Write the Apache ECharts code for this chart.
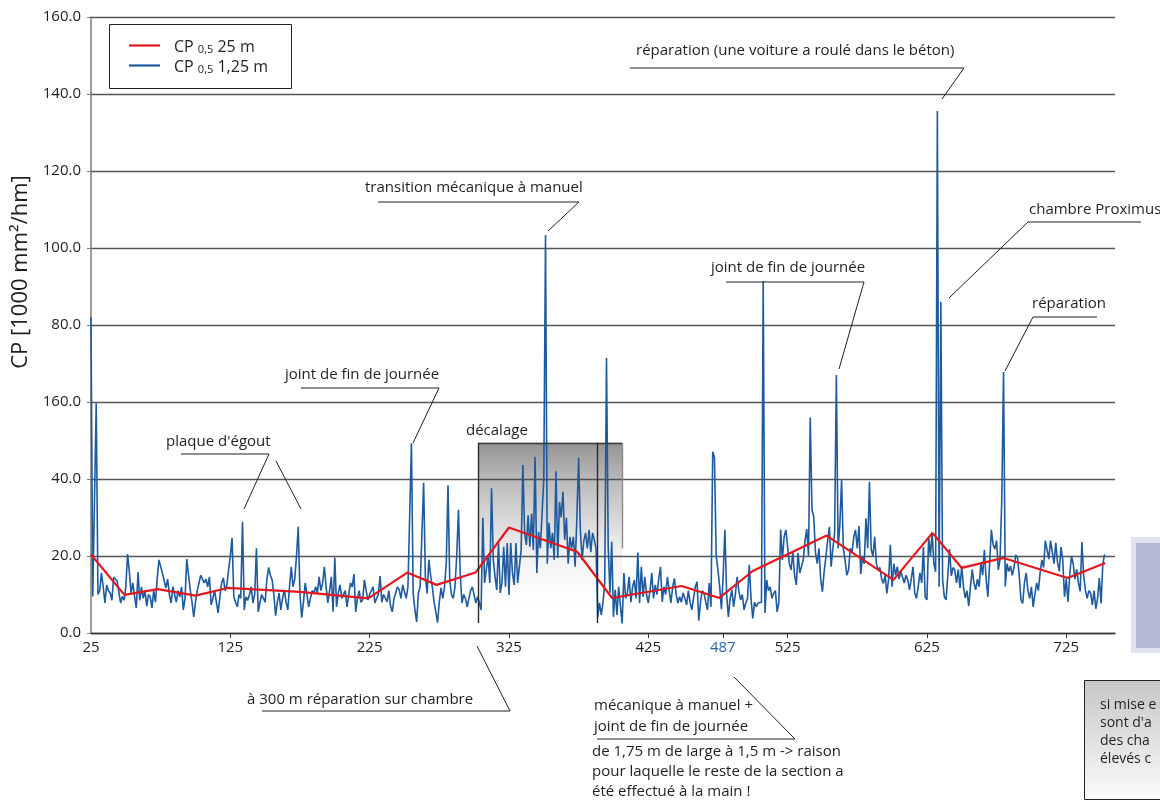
<!DOCTYPE html>
<html><head><meta charset="utf-8">
<script src="https://cdn.jsdelivr.net/npm/echarts@6/dist/echarts.min.js"></script>
<style>html,body{margin:0;padding:0;background:#fff}#c{width:1160px;height:803px}</style>
</head><body><div id="c"></div>
<script>
const FONT = '"Open Sans", "Noto Sans", sans-serif';
const TXT = '#231f20';

// CP 0,5 1,25 m : one value every 1.25 m, starting at 25 m
const blueStart = 25, blueStep = 1.25;
const blueValues = [
 82, 9.5, 10, 59.7, 10, 11, 15.6, 12, 7.8, 12.5, 11, 10.4, 8.5, 14.5, 14, 13.5, 13.8, 7.8, 9.5, 8.5,
 12, 20.5, 16, 10.4, 13, 9.5, 6.5, 15.8, 8.5, 12, 9, 11, 7, 10, 9.4, 6.5, 11, 8, 14, 19,
 19.2, 15.6, 16, 11.7, 14, 10, 7.8, 12, 10, 8, 11, 9.4, 12, 6, 9, 19.2, 15, 11.2, 8, 4.2,
 8, 11, 13, 15, 14.6, 13, 14, 12, 14.6, 7.3, 9, 11, 8, 5.2, 9.4, 13, 14.3, 11, 12.5, 16.4,
 20, 24.7, 9.4, 8, 6.8, 10, 9, 28.9, 6, 9.4, 8.5, 10, 12, 7.8, 10, 22, 5.5, 7.8, 10, 9,
 8, 14, 17, 15, 13.8, 10, 4.5, 8, 10.4, 6, 9, 11.2, 8, 6, 12, 17.2, 12, 14, 20, 27.6,
 10, 4, 8, 13, 10, 6.8, 9, 11, 10.4, 12, 10.4, 14.6, 11, 13, 17.2, 12, 7.8, 11, 14.6, 5.5,
 19.6, 6.8, 10.4, 12.5, 9, 8.6, 11, 6.8, 10, 13, 12, 15.3, 5.5, 9, 11, 8, 8.6, 13.8, 11, 8.6,
 10, 11, 12, 7.8, 9, 10, 14.8, 8, 10, 9.5, 8.1, 11, 7, 5.5, 9, 10.4, 12, 11.2, 9, 12.5,
 12.5, 9, 12, 12, 49.3, 10.3, 6, 2.9, 10.4, 12, 12, 39, 14.6, 10.3, 19, 15, 12, 8, 5.5, 2.7,
 8, 11.7, 9, 12, 18, 38.4, 13.8, 10, 9, 12, 20, 32, 15.6, 7.8, 10, 9, 6.8, 9, 11, 12,
 12, 7.8, 9.4, 7.8, 6, 29.9, 13, 12.5, 20, 13, 37.6, 19, 14.6, 11.2, 23.4, 10.4, 13, 22.4, 12, 23.4,
 9.9, 23.4, 15.6, 12.5, 23.4, 13, 12.5, 21.6, 43.6, 26, 22.9, 30.6, 22.4, 31, 21.6, 45.8, 15.6, 26.3, 22, 31,
 40, 103.4, 18, 28.6, 22, 26, 19, 42, 19.5, 34, 30, 36.7, 24.2, 29.9, 18, 25, 22, 25, 17.2, 30,
 45.5, 26.8, 19, 24, 26, 22, 26.8, 21, 26, 24.2, 22, 4.2, 7.8, 4.7, 7.8, 13, 71.4, 22.4, 10.4, 23.7,
 4.2, 11.2, 4.7, 12, 7, 2.5, 15.6, 9, 10.4, 14.6, 8, 12, 13.8, 9, 20.9, 7.8, 17.2, 9.4, 14.6, 10,
 7.8, 11, 15.6, 9, 12.5, 10, 14, 17.2, 8.1, 12, 10, 14.6, 11, 7.8, 12, 14.2, 10, 7.8, 9.4, 8,
 10.4, 9, 7.3, 11, 8, 6, 9, 12, 13.3, 3.2, 8, 11, 10.4, 8, 6, 13, 6.8, 47.1, 45.5, 20,
 16.4, 12, 6.2, 15, 26.8, 10, 4.2, 9, 11.2, 6.8, 10, 14.6, 11, 8.6, 10, 6, 7.8, 9, 17.7, 9,
 3.8, 8, 6.8, 7.8, 8, 8, 91.4, 5.2, 13.8, 11, 12, 9, 10.3, 11, 5.5, 8, 26.9, 19, 25, 26.8,
 22.4, 18, 16.4, 21, 15, 12.5, 20.8, 15.6, 16, 19, 24, 27, 20, 56, 32, 30.2, 21, 18, 22, 14,
 10.7, 16, 19.8, 24, 27.6, 17.2, 22, 26, 67, 22, 28, 39.7, 22, 19, 15, 16.4, 22, 20.8, 25, 26.8,
 22, 27.8, 15.3, 20, 18, 29.8, 22, 39.3, 21.6, 20, 25, 18, 16.4, 17, 14, 12.9, 15, 10.3, 14, 22.9,
 12, 18, 15, 17.2, 14, 16, 16.4, 13, 15, 13.8, 11.2, 14, 17.2, 10.4, 9, 12, 15.6, 13, 22.3, 9.4,
 8.6, 25, 20, 26, 18, 15.9, 135.6, 12, 86, 13.8, 9.4, 8.6, 15, 21.8, 14.8, 17, 16.4, 13, 16.5, 11.7,
 17.4, 12, 9.1, 11, 7, 12, 16.5, 13, 11.2, 14, 12, 18.3, 15, 21.6, 14, 9.4, 18, 26.8, 23, 21.8,
 24, 16.4, 19.2, 35, 67.8, 12.1, 18, 16, 17.4, 15, 17, 20.3, 19.6, 15, 8.6, 7.7, 13, 15.6, 11, 9,
 12, 6.8, 10, 13, 11, 15.6, 19, 17, 24, 23.6, 19.2, 24, 21, 18, 23.4, 18.3, 16, 22.3, 19, 9.4,
 14, 8.1, 15, 20, 18, 14, 16.5, 13, 10.8, 23.6, 15, 11.2, 9, 11, 10.4, 7.3, 11, 6.3, 9, 14.3,
 7.7, 17.8, 20.4
];

// CP 0,5 25 m
const redX = [25, 49, 73, 100, 123, 175, 224, 252, 273, 301, 325, 374, 399, 449, 476, 500, 553, 601, 629, 650, 680, 726, 753];
const redY = [20.4, 9.9, 11.4, 9.7, 11.7, 10.7, 9.0, 15.7, 12.5, 15.7, 27.4, 21.1, 9.1, 12.2, 9.1, 16.1, 25.3, 13.8, 26.0, 16.9, 19.5, 14.3, 18.2];

const redName = 'CP 0,5 25 m';
const blueName = 'CP 0,5 1,25 m';

const yTickLabels = ['0.0', '20.0', '40.0', '160.0', '80.0', '100.0', '120.0', '140.0', '160.0'];
const xTickValues = [25, 125, 225, 325, 425, 478.5, 525, 625, 725];
const xTickLabels = ['25', '125', '225', '325', '425', '487', '525', '625', '725'];

// "décalage" box (data coords)
const decal = {x0: 302.8, x1: 406.2, xm: 388.2, yTop: 49.4, yBot: 2.6};

// annotations (page layout)
const annotationTexts = [
  ["plaque d'égout", 166, 442],
  ['joint de fin de journée', 285, 375],
  ['transition mécanique à manuel', 365, 188],
  ['décalage', 466, 431],
  ['réparation (une voiture a roulé dans le béton)', 636, 51],
  ['joint de fin de journée', 711, 268],
  ['chambre Proximus', 1029, 210],
  ['réparation', 1032, 304],
  ['à 300 m réparation sur chambre', 247, 700],
  ['mécanique à manuel +', 594, 706],
  ['joint de fin de journée', 594, 727],
  ['de 1,75 m de large à 1,5 m -> raison', 592, 752],
  ['pour laquelle le reste de la section a', 592, 772],
  ['été effectué à la main !', 592, 792]
];
const leaderLines = [
  [[181,454],[269,454],[244,509]],
  [[276,461],[301,509]],
  [[301,388],[439,388],[413,443]],
  [[378,202],[579,202],[548,231]],
  [[630,68],[964,68],[942,99]],
  [[726,282],[864,282],[839,369]],
  [[1141,222],[1028,222],[949,298]],
  [[1097,317],[1033,317],[1005,371]],
  [[262,711],[510,711],[477,646]],
  [[597,739],[795,739],[734,677]]
];
const sideNoteLines = ['si mise e', "sont d'a", 'des cha', 'élevés c'];

const blueData = blueValues.map((v, i) => [blueStart + i * blueStep, v]);
const redData = redX.map((x, i) => [x, redY[i]]);

const chart = echarts.init(document.getElementById('c'), null, {renderer: 'canvas'});

const graphics = [];
graphics.push({type: 'rect', z: 3, shape: {x: 109.5, y: 24.5, width: 182, height: 64},
  style: {fill: '#fff', stroke: TXT, lineWidth: 1}});
graphics.push({type: 'text', z: 10, x: 21, y: 272, rotation: Math.PI / 2,
  style: {text: 'CP [1000 mm²/hm]', fill: TXT, fontSize: 22, fontFamily: FONT, align: 'center', verticalAlign: 'middle'}});
annotationTexts.forEach(a => graphics.push({type: 'text', z: 10, x: a[1], y: a[2],
  style: {text: a[0], fill: TXT, fontSize: 15, fontFamily: FONT, align: 'left', verticalAlign: 'middle'}}));
leaderLines.forEach(p => graphics.push({type: 'polyline', z: 10, shape: {points: p},
  style: {stroke: TXT, lineWidth: 1, fill: null}}));
// right-side partial elements
graphics.push({type: 'rect', z: 5, shape: {x: 1131, y: 537, width: 40, height: 116}, style: {fill: '#dfe3ef'}});
graphics.push({type: 'rect', z: 6, shape: {x: 1136, y: 543, width: 40, height: 105}, style: {fill: '#b4bad6'}});
graphics.push({type: 'rect', z: 5, shape: {x: 1084.5, y: 680.5, width: 100, height: 119},
  style: {fill: new echarts.graphic.LinearGradient(0, 0, 0, 1, [{offset: 0, color: '#c6c6c6'}, {offset: 1, color: '#fbfbfb'}]), stroke: '#222', lineWidth: 1}});
sideNoteLines.forEach((t, i) => graphics.push({type: 'text', z: 10, x: 1100, y: 705 + i * 18,
  style: {text: t, fill: TXT, fontSize: 14, fontFamily: FONT, align: 'left', verticalAlign: 'middle'}}));

const boxLine = (x0, y0, x1, y1, color) => [{coord: [x0, y0], lineStyle: {color: color}}, {coord: [x1, y1]}];

const option = {
  animation: false,
  backgroundColor: '#fff',
  grid: {left: 91, right: 45, top: 17, bottom: 170},
  xAxis: {
    type: 'value', min: 25, max: 760,
    axisLine: {show: true, onZero: false, lineStyle: {color: '#333', width: 1.3}},
    axisTick: {show: true, customValues: xTickValues.slice(1), length: 5, lineStyle: {color: '#333', width: 1}},
    axisLabel: {
      customValues: xTickValues,
      formatter: v => {
        const k = xTickValues.indexOf(v);
        const t = k >= 0 ? xTickLabels[k] : '';
        return t === '487' ? '{b|487}' : t;
      },
      color: TXT, fontSize: 15, fontFamily: FONT, margin: 7,
      rich: {b: {color: '#2e64a6', fontSize: 15, fontFamily: FONT}}
    },
    splitLine: {show: false}
  },
  yAxis: {
    type: 'value', min: 0, max: 160, interval: 20,
    axisLine: {show: true, lineStyle: {color: '#7a7a7a', width: 1.5}},
    axisTick: {show: true, length: 4, lineStyle: {color: '#7a7a7a'}},
    axisLabel: {formatter: v => yTickLabels[Math.round(v / 20)], color: TXT, fontSize: 15, fontFamily: FONT, margin: 10},
    splitLine: {show: true, lineStyle: {color: '#555', width: 1.3}}
  },
  legend: {
    orient: 'vertical', left: 124, top: 34, itemWidth: 31, itemHeight: 2.2, itemGap: 4,
    icon: 'rect',
    data: [redName, blueName],
    formatter: name => name === redName ? '{p|CP }{s|0,5}{a| 25 m}' : '{p|CP }{s|0,5}{a| 1,25 m}',
    textStyle: {
      color: TXT, fontFamily: FONT, fontSize: 16,
      rich: {
        p: {fontSize: 16, fontFamily: FONT, color: TXT, padding: [0, 0, 0, 9], lineHeight: 19, verticalAlign: 'bottom'},
        a: {fontSize: 16, fontFamily: FONT, color: TXT, lineHeight: 19, verticalAlign: 'bottom'},
        s: {fontSize: 11, fontFamily: FONT, color: TXT, lineHeight: 13, verticalAlign: 'bottom'}
      }
    }
  },
  series: [
    {
      name: blueName, type: 'line', data: blueData, symbol: 'none', z: 3, silent: true,
      lineStyle: {color: '#1d5a9e', width: 1.6}, itemStyle: {color: '#1d5a9e'},
      markArea: {
        silent: true, label: {show: false},
        itemStyle: {color: new echarts.graphic.LinearGradient(0, 0, 0, 1, [
          {offset: 0, color: 'rgba(70,70,70,0.58)'},
          {offset: 0.22, color: 'rgba(70,70,70,0.36)'},
          {offset: 0.6, color: 'rgba(70,70,70,0.08)'},
          {offset: 0.9, color: 'rgba(70,70,70,0)'}
        ])},
        data: [[{coord: [decal.x0, decal.yTop]}, {coord: [decal.x1, decal.yBot]}]]
      },
      markLine: {
        silent: true, symbol: ['none', 'none'], label: {show: false},
        lineStyle: {color: '#2b2b2b', width: 1.4, type: 'solid'},
        emphasis: {disabled: true},
        data: [
          boxLine(decal.x0, decal.yTop, decal.x1, decal.yTop, '#3a3a3a'),
          boxLine(decal.x0, decal.yTop, decal.x0, decal.yBot, '#2b2b2b'),
          boxLine(decal.xm, decal.yTop, decal.xm, decal.yBot, '#2b2b2b'),
          boxLine(decal.x1, decal.yTop, decal.x1, 22, '#8a8a8a')
        ]
      }
    },
    {
      name: redName, type: 'line', data: redData, symbol: 'none', z: 4, silent: true,
      lineStyle: {color: '#e3171e', width: 2.2}, itemStyle: {color: '#e3171e'}
    }
  ],
  graphic: graphics
};
chart.setOption(option);
</script>
</body></html>
